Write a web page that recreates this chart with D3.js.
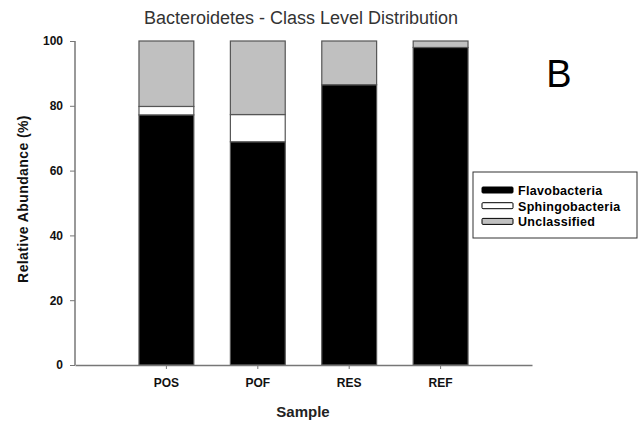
<!DOCTYPE html>
<html>
<head>
<meta charset="utf-8">
<script src="https://cdn.jsdelivr.net/npm/d3@7"></script>
<style>
	body { margin: 0; background: #fff; }
	text { font-family: Arial, "Liberation Sans", sans-serif; }
</style>
</head>
<body>
<div id="chart"></div>
<script>
// data
var samples = ["POS", "POF", "RES", "REF"];
var flavobacteria = [77.2, 68.9, 86.5, 98.0];
var sphingobacteria = [2.6, 8.4, 0, 0];
var unclassified = [20.2, 22.7, 13.5, 2.0];
var y_ticks = [0, 20, 40, 60, 80, 100];

var series = [
	{ label : "Flavobacteria", values : flavobacteria, color : "#000000" },
	{ label : "Sphingobacteria", values : sphingobacteria, color : "#ffffff" },
	{ label : "Unclassified", values : unclassified, color : "#c0c0c0" }
];

var width = 638, height = 425;
var padding = { left : 75, right : 106, top : 41, bottom : 60 };

var svg = d3.select("#chart").append("svg")
	.attr("width", width)
	.attr("height", height);

var scaleX = d3.scaleBand().domain(samples)
	.range([padding.left, width - padding.right])
	.paddingInner(0.4)
	.paddingOuter(0.7);
var scaleY = d3.scaleLinear().domain([0, 100])
	.range([height - padding.bottom, padding.top]);

// stack the series
var table = samples.map(function(s, i){
	var row = { sample : s };
	series.forEach(function(d){ row[d.label] = d.values[i]; });
	return row;
});
var stacked = d3.stack().keys(series.map(function(d){ return d.label; }))(table);

var layers = svg.selectAll(".layer").data(stacked)
	.enter().append("g")
	.attr("class", "layer")
	.style("fill", function(d, i){ return series[i].color; });

layers.selectAll("rect").data(function(d){ return d; })
	.enter().append("rect")
	.filter(function(d){ return d[1] - d[0] > 0; })
	.attr("x", function(d){ return scaleX(d.data.sample); })
	.attr("y", function(d){ return scaleY(d[1]); })
	.attr("width", scaleX.bandwidth())
	.attr("height", function(d){ return scaleY(d[0]) - scaleY(d[1]); })
	.style("stroke", "#555")
	.style("stroke-width", 1.2);

// axes
var axisY = svg.append("g")
	.attr("transform", "translate(" + padding.left + ",0)")
	.call(d3.axisLeft(scaleY).tickValues(y_ticks).tickSize(5).tickPadding(7));
var axisX = svg.append("g")
	.attr("transform", "translate(0," + scaleY(0) + ")")
	.call(d3.axisBottom(scaleX).tickSize(4).tickPadding(9).tickSizeOuter(0));

[axisY, axisX].forEach(function(a){
	a.select(".domain").style("stroke", "#777").style("stroke-width", 1.5);
	a.selectAll(".tick line").style("stroke", "#777");
	a.selectAll(".tick text")
		.style("font-size", "12px")
		.style("font-weight", "bold")
		.style("fill", "#111");
});
axisY.select(".domain").attr("d", "M0," + scaleY(100) + "V" + scaleY(0));

// title
svg.append("text")
	.attr("x", 301)
	.attr("y", 24)
	.style("text-anchor", "middle")
	.style("font-size", "18px")
	.style("fill", "#333")
	.text("Bacteroidetes - Class Level Distribution");

svg.append("text")
	.attr("x", 559)
	.attr("y", 87)
	.style("text-anchor", "middle")
	.style("font-size", "38px")
	.style("fill", "#000")
	.text("B");

// axis labels
svg.append("text")
	.attr("transform", "translate(28," + 199 + ") rotate(-90)")
	.style("text-anchor", "middle")
	.style("font-size", "14px")
	.style("letter-spacing", "0.4px")
	.style("font-weight", "bold")
	.style("fill", "#111")
	.text("Relative Abundance (%)");

svg.append("text")
	.attr("x", 303)
	.attr("y", 417)
	.style("text-anchor", "middle")
	.style("font-size", "15px")
	.style("font-weight", "bold")
	.style("fill", "#222")
	.text("Sample");

// legend
var legend = svg.append("g").attr("transform", "translate(473,172)");
legend.append("rect")
	.attr("width", 164)
	.attr("height", 66)
	.style("fill", "#fff")
	.style("stroke", "#333")
	.style("stroke-width", 1);

var items = legend.selectAll(".item").data(series)
	.enter().append("g")
	.attr("class", "item")
	.attr("transform", function(d, i){ return "translate(9," + (15 + i * 15.7) + ")"; });
items.append("rect")
	.attr("width", 31)
	.attr("height", 6)
	.attr("rx", 1)
	.style("fill", function(d){ return d.color; })
	.style("stroke", "#000");
items.append("text")
	.attr("x", 36)
	.attr("y", 8)
	.style("font-size", "12.5px")
	.style("letter-spacing", "0.3px")
	.style("font-weight", "bold")
	.style("fill", "#000")
	.text(function(d){ return d.label; });
</script>
</body>
</html>
